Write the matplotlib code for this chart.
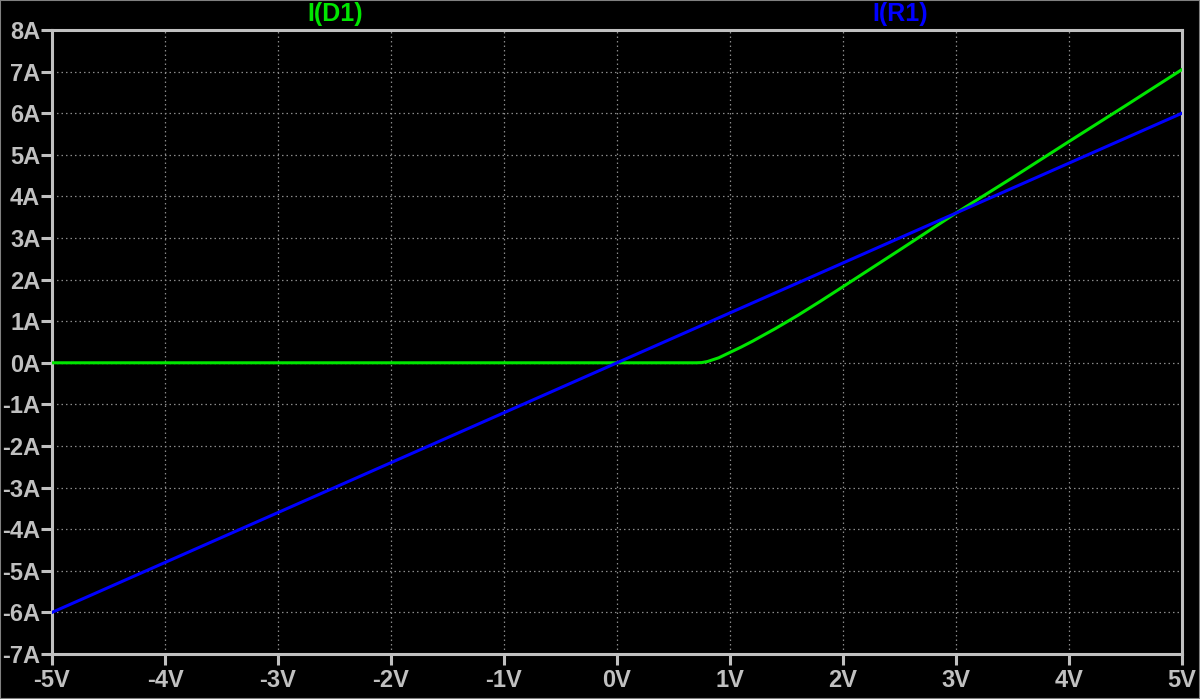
import matplotlib
matplotlib.use('Agg')
import matplotlib.pyplot as plt
import numpy as np
from matplotlib.patches import Rectangle

plt.rcParams['font.family'] = ['Liberation Sans', 'DejaVu Sans']
plt.rcParams['font.weight'] = 'bold'

# sweep voltage (V) and currents (A)
v_diode = [-5.0, 0.7, 0.75, 0.8, 0.9, 1.0, 1.1, 1.2, 1.3, 1.4, 1.5, 1.6, 1.8,
           2.0, 2.5, 3.0, 3.5, 4.0, 4.5, 5.0]
i_diode = [0.0, 0.0, 0.005, 0.03, 0.12, 0.25, 0.38, 0.52, 0.67, 0.82, 0.98, 1.14, 1.48,
           1.83, 2.71, 3.6, 4.45, 5.32, 6.18, 7.05]
v_res = [-5.0, 5.0]
i_res = [-6.0, 6.0]

xticks = list(range(-5, 6))
yticks = list(range(-7, 9))

GRAY = '#c0c0c0'
GREEN = '#00e600'
BLUE = '#0000ff'

fig = plt.figure(figsize=(12, 6.99), dpi=100, facecolor='black')
ax = fig.add_axes([52 / 1200, 1 - 654 / 699, 1130 / 1200, 624 / 699])
ax.set_facecolor('black')

ax.plot(v_diode, i_diode, color=GREEN, linewidth=2.2, zorder=3)
ax.plot(v_res, i_res, color=BLUE, linewidth=2.2, zorder=3)

ax.set_xlim(-5, 5)
ax.set_ylim(-7, 8)
ax.set_xticks(xticks)
ax.set_yticks(yticks)
ax.set_xticklabels([f'{v}V' for v in xticks])
ax.set_yticklabels([f'{v}A' for v in yticks])

ax.grid(True, color='#8a8a8a', linestyle=(0, (1.2, 2.4)), linewidth=0.9)
for s in ax.spines.values():
    s.set_color(GRAY)
    s.set_linewidth(2.2)
ax.tick_params(colors=GRAY, width=2.2, length=8, pad=0.5, labelsize=17)
ax.tick_params(axis='x', pad=3)

fig.text(335 / 1200, 1 - 14 / 699, 'I(D1)', color=GREEN, fontsize=18,
         fontweight='bold', ha='center', va='center')
fig.text(900 / 1200, 1 - 14 / 699, 'I(R1)', color=BLUE, fontsize=18,
         fontweight='bold', ha='center', va='center')

# thin gray frame around the window
fig.patches.append(Rectangle((0, 0), 1, 1, transform=fig.transFigure,
                             fill=False, edgecolor='#808080', linewidth=1.5))

fig.savefig('out.png', dpi=100, facecolor='black')
